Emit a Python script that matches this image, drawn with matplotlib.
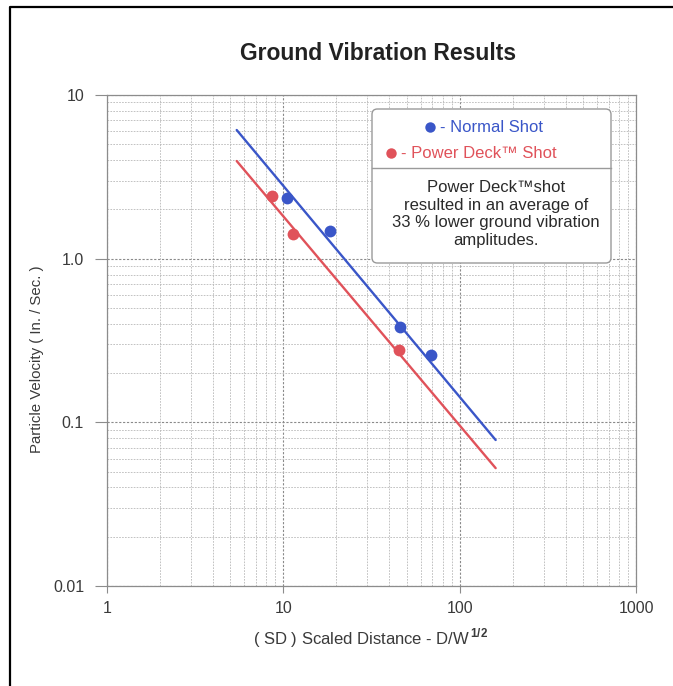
import matplotlib
matplotlib.use('Agg')
import matplotlib.pyplot as plt
from matplotlib.lines import Line2D
from matplotlib.patches import FancyBboxPatch

plt.rcParams['font.family'] = ['Liberation Sans', 'DejaVu Sans']
plt.rcParams['mathtext.fontset'] = 'custom'
plt.rcParams['mathtext.rm'] = 'Liberation Sans'
plt.rcParams['mathtext.bf'] = 'Liberation Sans:bold'

# measured shots
normal_sd = [10.45, 18.4, 46.1, 68.6]
normal_ppv = [2.34, 1.48, 0.385, 0.258]
power_sd = [8.6, 11.4, 45.3]
power_ppv = [2.42, 1.42, 0.275]

# trend lines (end points)
trend_sd = [5.44, 160.0]
normal_trend = [6.11, 0.078]
power_trend = [3.95, 0.0525]

x_ticks = [1, 10, 100, 1000]
x_labels = ['1', '10', '100', '1000']
y_ticks = [0.01, 0.1, 1.0, 10]
y_labels = ['0.01', '0.1', '1.0', '10']

blue = '#3a56c8'
red = '#e0525a'
grey = '#8c8c8c'
text_col = '#3a3a3a'

fig = plt.figure(figsize=(6.73, 6.86), dpi=100)
ax = fig.add_axes([107 / 673, 1 - 586 / 686, (636 - 107) / 673, (586 - 95) / 686])

ax.set_xscale('log')
ax.set_yscale('log')
ax.set_xlim(1, 1000)
ax.set_ylim(0.01, 10)

ax.grid(True, which='major', color='#8a8a8a', linestyle=(0, (2, 1.5)), linewidth=0.8)
ax.grid(True, which='minor', color='#b8b8b8', linestyle=(0, (2, 1.5)), linewidth=0.6)
ax.set_axisbelow(True)

ax.plot(trend_sd, normal_trend, color=blue, linewidth=1.7, solid_capstyle='round')
ax.plot(trend_sd, power_trend, color=red, linewidth=1.7, solid_capstyle='round')
ax.plot(normal_sd, normal_ppv, 'o', color=blue, markersize=8.5, markeredgewidth=0)
ax.plot(power_sd, power_ppv, 'o', color=red, markersize=8.5, markeredgewidth=0)

ax.set_xticks(x_ticks)
ax.set_xticklabels(x_labels)
ax.set_yticks(y_ticks)
ax.set_yticklabels(y_labels)
ax.tick_params(axis='x', which='major', length=5, width=0.8, color=grey, pad=6,
               labelsize=11.5, labelcolor=text_col)
ax.tick_params(axis='y', which='major', length=8.5, width=0.8, color=grey, pad=8,
               labelsize=11.5, labelcolor=text_col)
ax.tick_params(which='minor', length=0)
for s in ax.spines.values():
    s.set_color(grey)
    s.set_linewidth(0.9)

fig.text(378 / 673, 1 - 53 / 686, 'Ground Vibration Results', ha='center', va='center',
         fontsize=16.5, fontweight='bold', color='#222222')
fig.text(371 / 673, 1 - 638 / 686,
         r'( SD ) Scaled Distance - D/W$^{\,\mathbf{1/2}}$',
         ha='center', va='center', fontsize=12, color=text_col)
fig.text(37 / 673, 1 - 359 / 686, 'Particle Velocity ( In. / Sec. )',
         ha='center', va='center', rotation=90, fontsize=10.8, color=text_col)

# legend / note box
bx0, bx1 = 372 / 673, 611 / 673
by0, by1 = 1 - 263 / 686, 1 - 109 / 686
box = FancyBboxPatch((bx0, by0), bx1 - bx0, by1 - by0,
                     boxstyle='round,pad=0,rounding_size=0.008',
                     transform=fig.transFigure, facecolor='white',
                     edgecolor='#9a9a9a', linewidth=1.0, zorder=5)
fig.add_artist(box)
fig.add_artist(Line2D([bx0, bx1], [1 - 168 / 686] * 2, transform=fig.transFigure,
                      color='#9a9a9a', linewidth=1.0, zorder=6))

fig.add_artist(Line2D([430 / 673], [1 - 127 / 686], marker='o', color=blue,
                      markersize=7.5, markeredgewidth=0, transform=fig.transFigure, zorder=7))
fig.text(440 / 673, 1 - 127 / 686, '- Normal Shot', ha='left', va='center',
         fontsize=12, color=blue, zorder=7)
fig.add_artist(Line2D([391 / 673], [1 - 153 / 686], marker='o', color=red,
                      markersize=7.5, markeredgewidth=0, transform=fig.transFigure, zorder=7))
fig.text(401 / 673, 1 - 153 / 686, '- Power Deck\u2122 Shot', ha='left', va='center',
         fontsize=12, color=red, zorder=7)
fig.text(496 / 673, 1 - 214 / 686,
         'Power Deck\u2122shot\nresulted in an average of\n33 % lower ground vibration\namplitudes.',
         ha='center', va='center', fontsize=12, color='#2a2a2a', linespacing=1.2, zorder=7)

# scanned page border (left and top)
fig.add_artist(Line2D([10 / 673, 10 / 673, 1], [0, 1 - 7 / 686, 1 - 7 / 686],
                      transform=fig.transFigure, color='black', linewidth=1.6))

fig.savefig('out.png', dpi=100)
